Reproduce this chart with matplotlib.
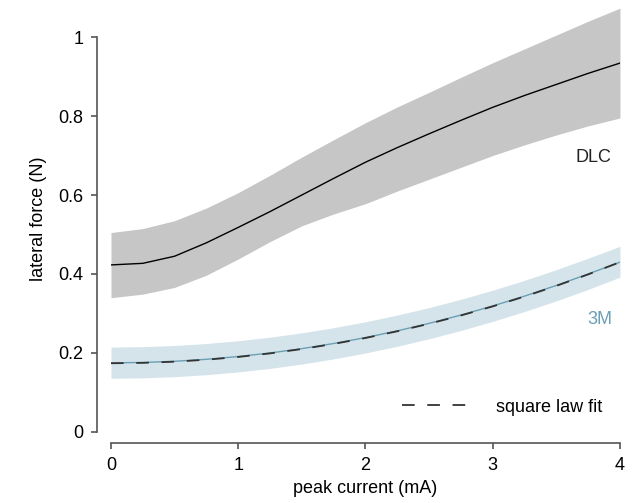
import matplotlib.pyplot as plt

plt.rcParams["font.family"] = ["Liberation Sans", "DejaVu Sans"]

# peak current (mA)
current = [0.0, 0.25, 0.5, 0.75, 1.0, 1.25, 1.5, 1.75, 2.0,
           2.25, 2.5, 2.75, 3.0, 3.25, 3.5, 3.75, 4.0]

# DLC: mean and band
dlc_mean = [0.423, 0.427, 0.445, 0.479, 0.518, 0.558, 0.600, 0.642, 0.683,
            0.720, 0.755, 0.789, 0.822, 0.852, 0.880, 0.908, 0.934]
dlc_upper = [0.505, 0.515, 0.535, 0.567, 0.606, 0.650, 0.696, 0.740, 0.783,
             0.823, 0.860, 0.898, 0.935, 0.970, 1.005, 1.040, 1.073]
dlc_lower = [0.340, 0.349, 0.366, 0.397, 0.438, 0.482, 0.522, 0.552, 0.578,
             0.610, 0.640, 0.670, 0.700, 0.727, 0.752, 0.775, 0.795]

# 3M: mean and band
m3_mean = [0.175, 0.176, 0.179, 0.184, 0.191, 0.200, 0.211, 0.224, 0.239,
           0.256, 0.275, 0.296, 0.319, 0.344, 0.371, 0.400, 0.430]
m3_upper = [0.215, 0.216, 0.219, 0.224, 0.231, 0.240, 0.251, 0.264, 0.279,
            0.296, 0.315, 0.336, 0.359, 0.384, 0.411, 0.440, 0.470]
m3_lower = [0.136, 0.137, 0.140, 0.145, 0.152, 0.161, 0.172, 0.185, 0.200,
            0.217, 0.236, 0.257, 0.280, 0.305, 0.332, 0.361, 0.392]

# square law fit to 3M
fit = [0.174, 0.175, 0.178, 0.183, 0.190, 0.199, 0.210, 0.223, 0.238,
       0.255, 0.274, 0.295, 0.318, 0.343, 0.370, 0.399, 0.430]

grey_band = "#c6c6c6"
blue_band = "#d5e4ea"
blue_line = "#6a9fb4"
spine_col = "#555555"

fig = plt.figure(figsize=(6.4, 5.03), dpi=100)
ax = fig.add_axes([0.1734, 0.1412, 0.7953, 0.848])

ax.fill_between(current, dlc_lower, dlc_upper, color=grey_band, linewidth=0)
ax.plot(current, dlc_mean, color="black", linewidth=1.0)

ax.fill_between(current, m3_lower, m3_upper, color=blue_band, linewidth=0)
ax.plot(current, m3_mean, color=blue_line, linewidth=1.0)
ax.plot(current, fit, color="#333333", linewidth=1.3,
        linestyle=(0, (7, 7)), label="square law fit")

ax.text(3.79, 0.694, "DLC", fontsize=13, color="#222222", ha="center", va="center")
ax.text(3.84, 0.284, "3M", fontsize=13, color=blue_line, ha="center", va="center")

ax.set_xlim(0, 4)
ax.set_ylim(0, 1.08)

ax.spines["top"].set_visible(False)
ax.spines["right"].set_visible(False)
ax.spines["left"].set_position(("outward", 10))
ax.spines["bottom"].set_position(("outward", 8))
ax.spines["left"].set_bounds(0, 1)
ax.spines["bottom"].set_bounds(0, 4)
for s in ("left", "bottom"):
    ax.spines[s].set_color(spine_col)
    ax.spines[s].set_linewidth(1.2)

ax.set_xticks([0, 1, 2, 3, 4])
ax.set_xticklabels(["0", "1", "2", "3", "4"])
ax.set_yticks([0, 0.2, 0.4, 0.6, 0.8, 1.0])
ax.set_yticklabels(["0", "0.2", "0.4", "0.6", "0.8", "1"])
ax.tick_params(direction="out", length=4, width=1.2, color=spine_col,
               labelsize=13, pad=6)

ax.set_xlabel("peak current (mA)", fontsize=13, labelpad=4)
ax.set_ylabel("lateral force (N)", fontsize=13, labelpad=8)

ax.legend(loc="lower right", frameon=False, fontsize=13, handlelength=3.6,
          handletextpad=1.6, bbox_to_anchor=(0.997, 0.0))

fig.savefig("out.png", dpi=100)
